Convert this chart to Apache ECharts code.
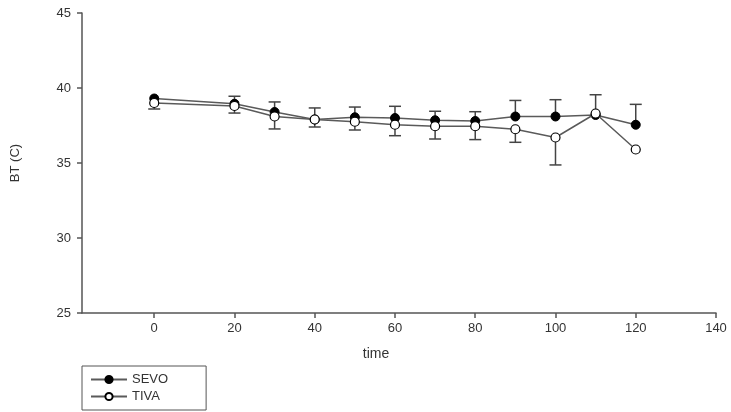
<!DOCTYPE html>
<html>
<head>
<meta charset="utf-8">
<script src="https://cdn.jsdelivr.net/npm/echarts@6/dist/echarts.min.js"></script>
<style>
  html, body { margin: 0; padding: 0; background: #fff; }
  #chart { width: 731px; height: 412px; }
</style>
</head>
<body>
<div id="chart"></div>
<script>
const times = [0, 20, 30, 40, 50, 60, 70, 80, 90, 100, 110, 120];
const sevoMean = [39.3, 38.95, 38.4, 37.9, 38.05, 38.0, 37.85, 37.8, 38.1, 38.1, 38.2, 37.55];
const sevoUpper = [null, 39.45, 39.07, 38.67, 38.73, 38.78, 38.45, 38.42, 39.17, 39.22, 39.55, 38.91];
const tivaMean = [39.0, 38.8, 38.1, 37.9, 37.75, 37.55, 37.45, 37.45, 37.25, 36.7, 38.3, 35.9];
const tivaLower = [38.6, 38.33, 37.27, 37.4, 37.2, 36.82, 36.6, 36.56, 36.38, 34.87, null, null];
const xTicks = [0, 20, 40, 60, 80, 100, 120, 140];

const font = "Liberation Sans, Arial, sans-serif";
const ink = "#333";
const lineGray = "#5a5a5a";

function errorBars(mean, bound) {
  return times.map((t, i) => [t, mean[i], bound[i]]).filter(d => d[2] != null);
}

function renderErr(params, api) {
  const x = api.value(0);
  const p0 = api.coord([x, api.value(1)]);
  const p1 = api.coord([x, api.value(2)]);
  const half = 6;
  const style = { stroke: "#444", lineWidth: 1.5 };
  return {
    type: "group",
    children: [
      { type: "line", shape: { x1: p0[0], y1: p0[1], x2: p1[0], y2: p1[1] }, style },
      { type: "line", shape: { x1: p1[0] - half, y1: p1[1], x2: p1[0] + half, y2: p1[1] }, style }
    ]
  };
}

const chart = echarts.init(document.getElementById("chart"));

const option = {
  backgroundColor: "#fff",
  animation: false,
  grid: { left: 82, right: 15, top: 13, bottom: 99 },
  legend: {
    orient: "vertical",
    left: 82,
    top: 366,
    data: ["SEVO", "TIVA"],
    borderColor: "#555",
    borderWidth: 1,
    padding: [7, 38, 7, 8],
    itemGap: 4,
    itemWidth: 36,
    itemHeight: 9,
    textStyle: { fontFamily: font, fontSize: 13, color: ink }
  },
  xAxis: {
    type: "value",
    min: -18,
    max: 140,
    name: "time",
    nameLocation: "middle",
    nameGap: 34,
    nameTextStyle: { fontFamily: font, fontSize: 14, color: ink, padding: [0, 46, 0, 0] },
    axisLine: { lineStyle: { color: "#555", width: 1.5 } },
    axisTick: { show: true, length: 5, customValues: xTicks, lineStyle: { color: "#555", width: 1.5 } },
    axisLabel: { customValues: xTicks, margin: 9, fontFamily: font, fontSize: 13, color: ink },
    splitLine: { show: false }
  },
  yAxis: {
    type: "value",
    min: 25,
    max: 45,
    interval: 5,
    name: "BT (C)",
    nameLocation: "middle",
    nameGap: 60,
    nameTextStyle: { fontFamily: font, fontSize: 13, color: ink },
    axisLine: { show: true, onZero: false, lineStyle: { color: "#555", width: 1.5 } },
    axisTick: { show: true, length: 5, lineStyle: { color: "#555", width: 1.5 } },
    axisLabel: { margin: 11, fontFamily: font, fontSize: 13, color: ink },
    splitLine: { show: false }
  },
  series: [
    {
      type: "custom",
      name: "sevoErr",
      renderItem: renderErr,
      data: errorBars(sevoMean, sevoUpper),
      z: 1,
      silent: true
    },
    {
      type: "custom",
      name: "tivaErr",
      renderItem: renderErr,
      data: errorBars(tivaMean, tivaLower),
      z: 1,
      silent: true
    },
    {
      name: "SEVO",
      type: "line",
      data: times.map((t, i) => [t, sevoMean[i]]),
      symbol: "circle",
      symbolSize: 9,
      lineStyle: { color: lineGray, width: 1.5 },
      itemStyle: { color: "#000", borderColor: "#000", borderWidth: 1 },
      z: 2
    },
    {
      name: "TIVA",
      type: "line",
      data: times.map((t, i) => [t, tivaMean[i]]),
      symbol: "circle",
      symbolSize: 9,
      lineStyle: { color: lineGray, width: 1.5 },
      itemStyle: { color: "#fff", borderColor: "#000", borderWidth: 1.2 },
      z: 3
    }
  ]
};

chart.setOption(option);
window.addEventListener("resize", () => chart.resize());
</script>
</body>
</html>
